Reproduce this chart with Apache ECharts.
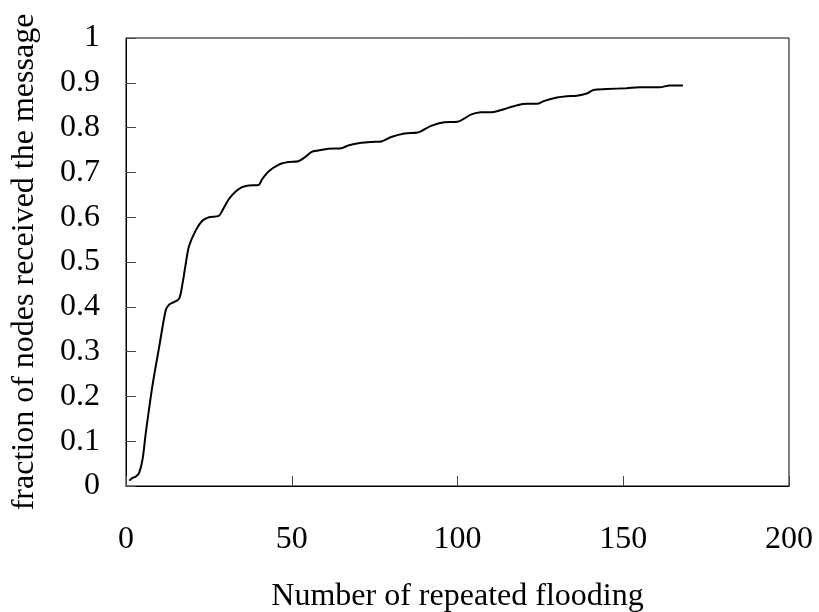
<!DOCTYPE html>
<html>
<head>
<meta charset="utf-8">
<script src="https://cdn.jsdelivr.net/npm/echarts@6/dist/echarts.min.js"></script>
<style>
html,body{margin:0;padding:0;background:#fff;}
#chart{width:819px;height:612px;}
</style>
</head>
<body>
<div id="chart"></div>
<script>
const floodCount = [1, 2, 3, 4, 5, 6, 8, 10, 12, 13, 14, 16, 17, 18, 19, 21, 23, 25, 28, 29, 31, 33, 35, 37, 40, 41, 43, 46, 49, 52, 54, 56, 58, 61, 65, 67, 71, 74, 77, 80, 84, 88, 92, 96, 100, 102, 104, 107, 111, 114, 118, 121, 124, 126, 130, 133, 136, 139, 141, 145, 151, 155, 161, 164, 168];
const fractionReceived = [0.012, 0.018, 0.021, 0.03, 0.06, 0.12, 0.225, 0.31, 0.393, 0.405, 0.409, 0.418, 0.45, 0.495, 0.535, 0.57, 0.592, 0.6, 0.603, 0.614, 0.64, 0.657, 0.667, 0.671, 0.672, 0.684, 0.702, 0.717, 0.723, 0.725, 0.734, 0.746, 0.749, 0.753, 0.754, 0.760, 0.766, 0.768, 0.769, 0.779, 0.787, 0.789, 0.804, 0.812, 0.813, 0.82, 0.829, 0.834, 0.835, 0.841, 0.85, 0.853, 0.853, 0.859, 0.867, 0.87, 0.871, 0.876, 0.884, 0.886, 0.888, 0.89, 0.89, 0.894, 0.894];
const xTitle = 'Number of repeated flooding';
const yTitle = 'fraction of nodes received the message';

const font = '"Liberation Serif", "Times New Roman", serif';
const chart = echarts.init(document.getElementById('chart'), null, {renderer: 'canvas'});
chart.setOption({
  animation: false,
  backgroundColor: '#fff',
  grid: {left: 126, right: 30, top: 38, bottom: 126, show: true, borderColor: '#000', borderWidth: 1, containLabel: false, outerBoundsMode: 'none'},
  xAxis: {
    type: 'value', min: 0, max: 200, interval: 50,
    name: xTitle, nameLocation: 'middle', nameGap: 95,
    nameTextStyle: {fontFamily: font, fontSize: 32, color: '#000'},
    axisLine: {show: true, lineStyle: {color: '#000', width: 1}},
    axisTick: {show: true, inside: true, length: 10, lineStyle: {color: '#444'}},
    axisLabel: {fontFamily: font, fontSize: 32, color: '#000', margin: 38},
    splitLine: {show: false}
  },
  yAxis: {
    type: 'value', min: 0, max: 1, interval: 0.1,
    name: yTitle, nameLocation: 'middle', nameGap: 85,
    nameTextStyle: {fontFamily: font, fontSize: 32, color: '#000'},
    axisLine: {show: true, lineStyle: {color: '#000', width: 1}},
    axisTick: {show: true, inside: true, length: 10, lineStyle: {color: '#444'}},
    axisLabel: {fontFamily: font, fontSize: 32, color: '#000', margin: 26},
    splitLine: {show: false}
  },
  series: [{
    type: 'line',
    data: floodCount.map((x, i) => [x, fractionReceived[i]]),
    showSymbol: false,
    smooth: 0.3,
    lineStyle: {color: '#000', width: 2}
  }]
});
</script>
</body>
</html>
